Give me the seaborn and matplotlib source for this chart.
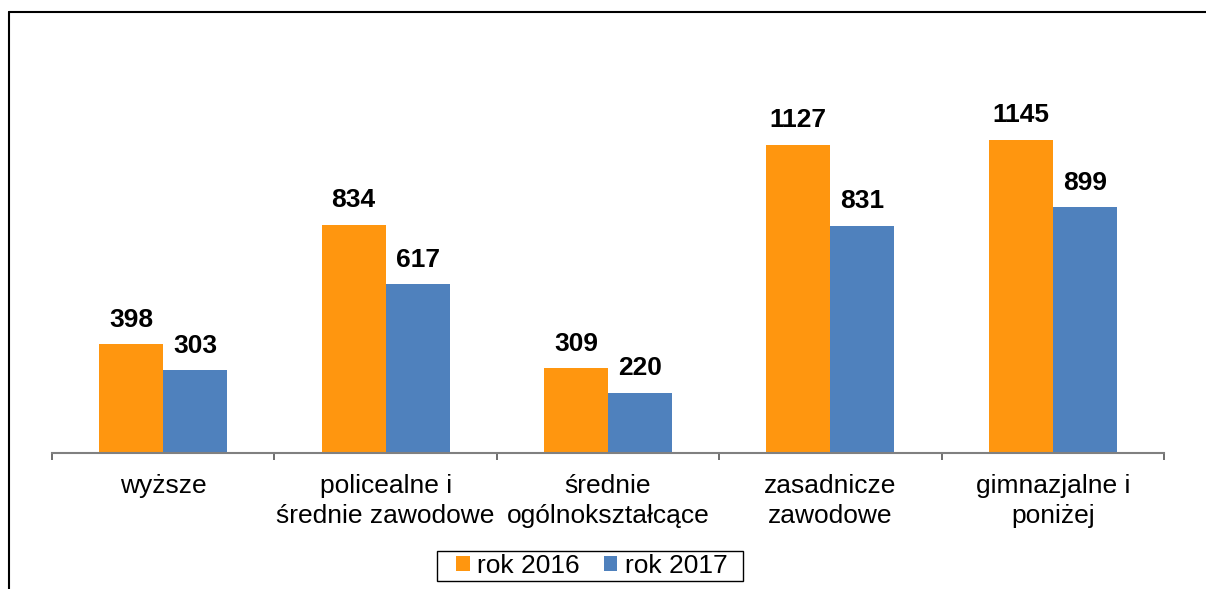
import numpy as np
import pandas as pd
import matplotlib
matplotlib.use("Agg")
import matplotlib.pyplot as plt
from matplotlib.lines import Line2D
from matplotlib.patches import Rectangle
import seaborn as sns

categories = ["wyższe", "policealne i\nśrednie zawodowe", "średnie\nogólnokształcące",
              "zasadnicze\nzawodowe", "gimnazjalne i\nponiżej"]
series = ["rok 2016", "rok 2017"]
values_2016 = [398, 834, 309, 1127, 1145]
values_2017 = [303, 617, 220, 831, 899]
colors = ["#FF960F", "#4F81BD"]

df = pd.DataFrame({
    "kategoria": categories * 2,
    "rok": [series[0]] * 5 + [series[1]] * 5,
    "liczba": values_2016 + values_2017,
})

sns.set_style("white")
plt.rcParams["font.family"] = ["Liberation Sans", "DejaVu Sans"]
plt.rcParams["text.color"] = "black"
plt.rcParams["xtick.color"] = "black"

W, H = 1206, 589
fig = plt.figure(figsize=(W / 100, H / 100), dpi=100)
ax = fig.add_axes([52 / W, 1 - 453 / H, (1164 - 52) / W, (453 - 70) / H])

sns.barplot(data=df, x="kategoria", y="liczba", hue="rok", order=categories,
            hue_order=series, palette=colors, width=0.576, linewidth=0,
            saturation=1, ax=ax, legend=True)

ax.set_ylim(0, 1400)
ax.set_xlim(-0.5, 4.5)
ax.set_xlabel("")
ax.set_ylabel("")
ax.set_yticks([])
for s in ["top", "right", "left"]:
    ax.spines[s].set_visible(False)
ax.spines["bottom"].set_color("#808080")
ax.spines["bottom"].set_linewidth(1.5)

# boundary ticks + centred labels
ax.set_xticks(np.arange(-0.5, 5, 1))
ax.set_xticklabels([])
ax.tick_params(axis="x", which="major", length=5, width=1.2, color="#555555",
               direction="out", bottom=True)
ax.set_xticks(np.arange(5), minor=True)
ax.set_xticklabels(categories, minor=True, fontsize=19, linespacing=1.3,
                   color="black")
ax.tick_params(axis="x", which="minor", length=0, pad=15)

for cont in ax.containers:
    ax.bar_label(cont, fmt="%d", padding=9, fontsize=19, fontweight="bold",
                 color="black")

ax.legend(loc="center", bbox_to_anchor=(592 / W, 1 - 566 / H),
          bbox_transform=fig.transFigure, ncol=2, frameon=False,
          fontsize=19, handlelength=0.5, handleheight=0.5,
          handletextpad=0.3, columnspacing=0.9, borderpad=0.0)
fig.add_artist(Rectangle((437 / W, 1 - 581 / H), (743 - 437) / W, 30 / H,
                         transform=fig.transFigure, fill=False,
                         edgecolor="black", lw=1.0))

# outer chart frame (top and left edges visible)
fig.add_artist(Line2D([9 / W, 1.0], [1 - 12 / H, 1 - 12 / H],
                      transform=fig.transFigure, color="black", lw=1.5))
fig.add_artist(Line2D([9 / W, 9 / W], [0, 1 - 12 / H],
                      transform=fig.transFigure, color="black", lw=1.5))

fig.savefig("out.png", dpi=100)
